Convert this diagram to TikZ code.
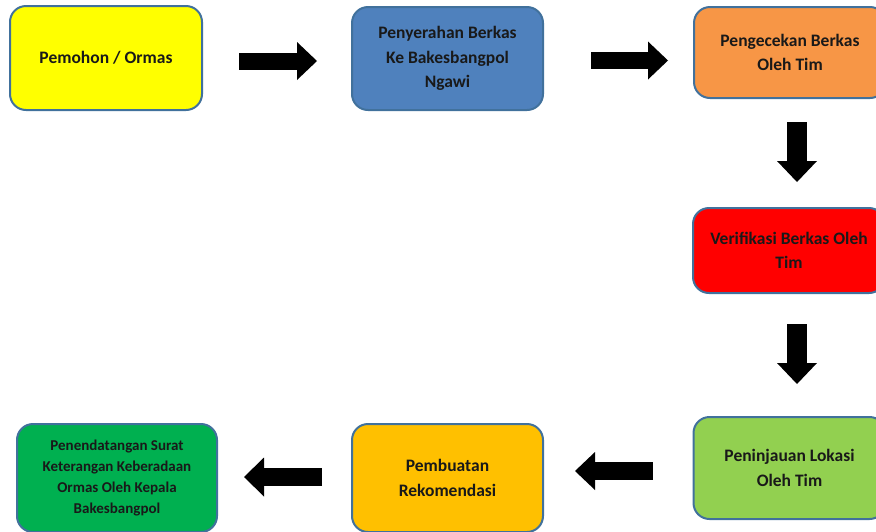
\documentclass[tikz,border=0pt]{standalone}
\usepackage{fontspec}
\setmainfont{Carlito}
\usetikzlibrary{arrows.meta}

\definecolor{boxline}{HTML}{41719C}
\definecolor{cyellow}{HTML}{FFFF00}
\definecolor{cblue}{HTML}{4F81BD}
\definecolor{corange}{HTML}{F79646}
\definecolor{cred}{HTML}{FF0000}
\definecolor{clime}{HTML}{92D050}
\definecolor{cgold}{HTML}{FFC000}
\definecolor{cgreen}{HTML}{00B050}

\tikzset{
  stepbox/.style={draw=boxline, line width=2pt, rounded corners=16pt, align=center,
    inner sep=0pt, text=black!90, font=\bfseries\fontsize{17.5}{24.5}\selectfont},
  blockarrow/.style={line width=17pt, -{Triangle[width=38pt,length=20pt,line width=0pt]}}
}

\begin{document}
\begin{tikzpicture}[x=1pt,y=-1pt]
  \useasboundingbox (0,0) rectangle (876,531);
  \clip (0,0) rectangle (876,531);

  % Top row
  \node[stepbox, fill=cyellow, minimum width=192pt, minimum height=104pt] (pemohon) at (106,58) {Pemohon / Ormas};
  \node[stepbox, fill=cblue, minimum width=191pt, minimum height=103pt] (penyerahan) at (447.5,58.5) {Penyerahan Berkas\\Ke Bakesbangpol\\Ngawi};
  \node[stepbox, fill=corange, minimum width=192pt, minimum height=91pt] (pengecekan) at (790,52.5) {Pengecekan Berkas\\Oleh Tim};

  % Right column
  \node[stepbox, fill=cred, minimum width=192pt, minimum height=85pt] (verifikasi) at (789,250.5) {Verifikasi Berkas Oleh\\Tim};
  \node[stepbox, fill=clime, minimum width=192pt, minimum height=102pt] (peninjauan) at (789.5,468) {Peninjauan Lokasi\\Oleh Tim};

  % Bottom row
  \node[stepbox, fill=cgold, minimum width=191pt, minimum height=108pt] (pembuatan) at (447.5,478) {Pembuatan\\Rekomendasi};
  \node[stepbox, fill=cgreen, minimum width=200pt, minimum height=108pt,
    font=\bfseries\fontsize{15}{21}\selectfont] (penandatangan) at (117,478)
    {Penendatangan Surat\\Keterangan Keberadaan\\Ormas Oleh Kepala\\Bakesbangpol};

  % Arrows
  \draw[blockarrow] ([xshift=36pt,yshift=-3pt]pemohon.east) -- ([xshift=-34pt,yshift=-2.5pt]penyerahan.west);
  \draw[blockarrow] ([xshift=47pt,yshift=-2pt]penyerahan.east) -- ([xshift=-25pt,yshift=-8pt]pengecekan.west);
  \draw[blockarrow, line width=20pt, -{Triangle[width=40pt,length=21pt,line width=0pt]}]
    ([xshift=7pt,yshift=-23pt]pengecekan.south) -- ([xshift=8pt,yshift=25pt]verifikasi.north);
  \draw[blockarrow, line width=20pt, -{Triangle[width=40pt,length=21pt,line width=0pt]}]
    ([xshift=8pt,yshift=-30pt]verifikasi.south) -- ([xshift=7.5pt,yshift=32pt]peninjauan.north);
  \draw[blockarrow, line width=18pt] ([xshift=-40pt,yshift=-3pt]peninjauan.west) -- ([xshift=31pt,yshift=7pt]pembuatan.east);
  \draw[blockarrow, line width=18pt, -{Triangle[width=39pt,length=20pt,line width=0pt]}]
    ([xshift=-29pt,yshift=1pt]pembuatan.west) -- ([xshift=26pt,yshift=1pt]penandatangan.east);

\end{tikzpicture}
\end{document}
